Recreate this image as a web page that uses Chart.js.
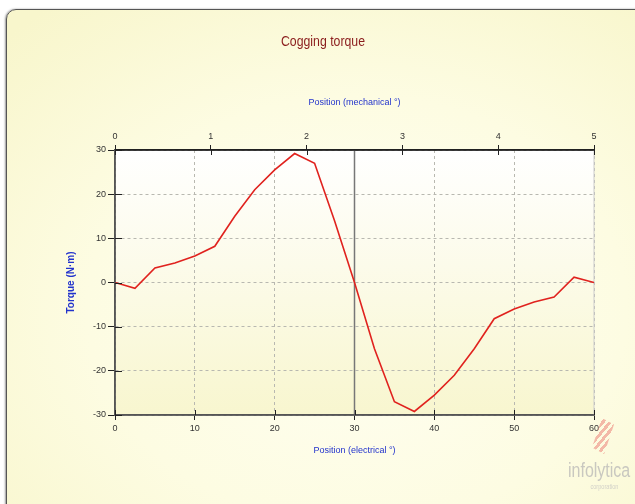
<!DOCTYPE html>
<html>
<head>
<meta charset="utf-8">
<script src="https://cdn.jsdelivr.net/npm/chart.js@4/dist/chart.umd.min.js"></script>
<style>
  html, body { margin: 0; padding: 0; background: #fff; }
  body { width: 635px; height: 504px; position: relative; overflow: hidden; }
  #panel {
    position: absolute; left: 6px; top: 9px; width: 700px; height: 600px;
    border: 1.5px solid #555; border-radius: 10px;
    box-shadow: -1px 0 2px #999;
    background: radial-gradient(ellipse 70% 65% at 50% 50%, #fffff3 0%, #fdfce2 55%, #f8f6cc 100%);
  }
  #chart { position: absolute; left: 0; top: 0; }
  #logo { position: absolute; left: 568px; top: 459px; width: 100px; font-family: 'Liberation Sans', sans-serif; color: #c9c8c0; transform: scaleX(0.8); transform-origin: left top; line-height: 1.1; }
  #logo .name { font-size: 20px; }
  #logo .sub { font-size: 7px; margin-left: 28px; margin-top: 2px; color: #d2d1c8; }
  #mark {
    position: absolute; left: 592px; top: 418px; width: 22px; height: 36px;
    background: repeating-linear-gradient(-50deg, rgba(235,130,120,0.55) 0 3px, transparent 3px 5.5px);
    clip-path: polygon(45% 0, 100% 18%, 55% 100%, 0 82%);
  }
</style>
</head>
<body>
<div id="panel"></div>
<canvas id="chart" width="635" height="504"></canvas>
<div id="mark"></div>
<div id="logo"><div class="name">infolytica</div><div class="sub">corporation</div></div>
<script>
// positions in electrical degrees and the cogging torque
const electrical = [0, 2.5, 5, 7.5, 10, 12.5, 15, 17.5, 20, 22.5, 25, 27.5, 30,
  32.5, 35, 37.5, 40, 42.5, 45, 47.5, 50, 52.5, 55, 57.5, 60]
const torque = [0, -1.3, 3.3, 4.4, 6, 8.2, 15, 21, 25.5, 29.2, 27, 14, 0,
  -15, -27, -29.2, -25.5, -21, -15, -8.2, -6, -4.4, -3.3, 1.2, 0]
const electricalTicks = [0, 10, 20, 30, 40, 50, 60]
const mechanicalTicks = [0, 1, 2, 3, 4, 5]
const torqueTicks = [-30, -20, -10, 0, 10, 20, 30]
const chartTitle = 'Cogging torque'

const tickFont = { family: "'Liberation Sans', sans-serif", size: 9 }
const axisTitleFont = { family: "'Liberation Sans', sans-serif", size: 9 }

// title (narrow look), plot background, solid line at 30, axis lines and inward tick parts
const plotDecor = {
  id: 'plotDecor',
  beforeDraw(chart) {
    const { ctx, chartArea: a } = chart
    const g = ctx.createLinearGradient(0, a.top, 0, a.bottom)
    g.addColorStop(0, '#ffffff')
    g.addColorStop(1, '#f8f6cf')
    ctx.save()
    ctx.fillStyle = g
    ctx.fillRect(a.left, a.top, a.right - a.left, a.bottom - a.top)
    ctx.restore()

    ctx.save()
    ctx.translate(323, 42)
    ctx.scale(0.82, 1)
    ctx.font = "15px 'Liberation Sans', sans-serif"
    ctx.fillStyle = '#8b1d1d'
    ctx.textAlign = 'center'
    ctx.textBaseline = 'middle'
    ctx.fillText(chartTitle, 0, 0)
    ctx.restore()
  },
  beforeDatasetsDraw(chart) {
    const { ctx, chartArea: a, scales } = chart
    const x30 = scales.x.getPixelForValue(30)
    ctx.save()
    ctx.strokeStyle = '#777'
    ctx.lineWidth = 1.5
    ctx.beginPath()
    ctx.moveTo(x30, a.top)
    ctx.lineTo(x30, a.bottom)
    ctx.stroke()
    ctx.strokeStyle = '#ccc'
    ctx.lineWidth = 1
    ctx.beginPath()
    ctx.moveTo(a.right, a.top)
    ctx.lineTo(a.right, a.bottom)
    ctx.stroke()
    ctx.restore()
  },
  afterDraw(chart) {
    const { ctx, chartArea: a, scales } = chart
    ctx.save()
    ctx.lineWidth = 1.5
    ctx.strokeStyle = '#555'
    ctx.beginPath()
    ctx.moveTo(a.left, a.top); ctx.lineTo(a.left, a.bottom); ctx.lineTo(a.right, a.bottom)
    ctx.stroke()
    ctx.strokeStyle = '#222'
    ctx.beginPath()
    ctx.moveTo(a.left, a.top); ctx.lineTo(a.right, a.top)
    ctx.stroke()

    ctx.lineWidth = 1
    ctx.beginPath()
    scales.y.ticks.forEach(t => {
      const p = Math.round(scales.y.getPixelForValue(t.value)) + 0.5
      ctx.moveTo(a.left, p); ctx.lineTo(a.left + 7, p)
    })
    scales.x.ticks.forEach(t => {
      const p = Math.round(scales.x.getPixelForValue(t.value)) + 0.5
      ctx.moveTo(p, a.bottom); ctx.lineTo(p, a.bottom - 5)
    })
    scales.x2.ticks.forEach(t => {
      const p = Math.round(scales.x2.getPixelForValue(t.value)) + 0.5
      ctx.moveTo(p, a.top); ctx.lineTo(p, a.top + 5)
    })
    ctx.stroke()
    ctx.restore()
  }
}

const points = electrical.map((e, i) => ({ x: e, y: torque[i] }))

new Chart(document.getElementById('chart'), {
  type: 'line',
  data: {
    datasets: [{
      data: points,
      borderColor: '#e0221e',
      borderWidth: 1.6,
      pointRadius: 0,
      tension: 0,
      xAxisID: 'x',
      yAxisID: 'y'
    }]
  },
  options: {
    responsive: false,
    animation: false,
    layout: { padding: { left: 0, right: 41, top: 0, bottom: 40 } },
    plugins: {
      legend: { display: false },
      tooltip: { enabled: false }
    },
    scales: {
      x: {
        type: 'linear',
        position: 'bottom',
        min: 0, max: 60,
        afterBuildTicks: s => { s.ticks = electricalTicks.map(v => ({ value: v })) },
        afterFit: s => { s.height = 49 },
        ticks: { color: '#333', font: tickFont, padding: 3, maxRotation: 0 },
        grid: { color: '#b8b8b0', tickColor: '#222', tickLength: 5, lineWidth: 1 },
        border: { color: '#555', width: 1.5, dash: [3, 3] },
        title: { display: true, text: 'Position (electrical °)', color: '#2233cc', font: axisTitleFont, padding: { top: 0, bottom: 8 } }
      },
      x2: {
        type: 'linear',
        position: 'top',
        min: 0, max: 5,
        afterBuildTicks: s => { s.ticks = mechanicalTicks.map(v => ({ value: v })) },
        afterFit: s => { s.height = 150 },
        ticks: { color: '#333', font: tickFont, padding: 3, maxRotation: 0 },
        grid: { drawOnChartArea: false, tickColor: '#222', tickLength: 5 },
        border: { color: '#222', width: 1.5 },
        title: { display: true, text: 'Position (mechanical °)', color: '#2233cc', font: axisTitleFont, padding: { top: 97, bottom: 0 } }
      },
      y: {
        type: 'linear',
        position: 'left',
        min: -30, max: 30,
        afterBuildTicks: s => { s.ticks = torqueTicks.map(v => ({ value: v })) },
        afterFit: s => { s.width = 115 },
        ticks: { color: '#333', font: tickFont, padding: 2 },
        grid: { color: '#b8b8b0', tickColor: '#222', tickLength: 7, lineWidth: 1 },
        border: { color: '#555', width: 1.5, dash: [3, 3] },
        title: { display: true, text: 'Torque (N·m)', color: '#2233cc', font: { ...axisTitleFont, size: 10, weight: 'bold' }, padding: { top: 65, bottom: 0 } }
      }
    }
  },
  plugins: [plotDecor]
})
</script>
</body>
</html>
